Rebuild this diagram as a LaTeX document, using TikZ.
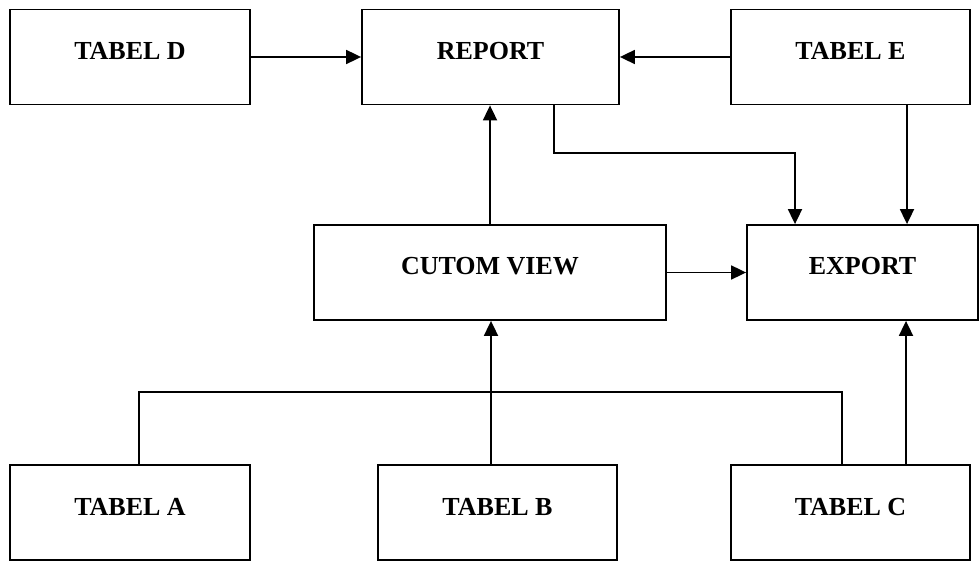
\documentclass[tikz,border=0pt]{standalone}
\usepackage{fontspec}
\setmainfont{Liberation Serif}
\usetikzlibrary{arrows.meta}

\begin{document}
\begin{tikzpicture}[x=1pt,y=-1pt]
    \tikzset{box/.style = {shape=rectangle, draw, line width=1.8pt, minimum height=95pt, inner sep=0pt, font=\fontsize{26}{28}\selectfont\bfseries, text height=10pt, text depth=5pt}}
    \tikzset{edge/.style = {draw, line width=1.8pt, -{Triangle[length=15pt,width=14pt]}}}
    \tikzset{link/.style = {draw, line width=1.8pt, -}}

    \useasboundingbox (0,0) rectangle (980,561);

    % vertices
    \node[box, minimum width=240pt] (d) at (130,57) {TABEL D};
    \node[box, minimum width=257pt] (report) at (490.5,57) {REPORT};
    \node[box, minimum width=239pt] (e) at (850.5,57) {TABEL E};
    \node[box, minimum width=352pt] (custom) at (490,272.5) {CUTOM VIEW};
    \node[box, minimum width=231pt] (export) at (862.5,272.5) {EXPORT};
    \node[box, minimum width=240pt] (a) at (130,512.5) {TABEL A};
    \node[box, minimum width=239pt] (b) at (497.5,512.5) {TABEL B};
    \node[box, minimum width=239pt] (c) at (850.5,512.5) {TABEL C};

    % edges
    \draw [edge] (d) -- (report);
    \draw [edge] (e) -- (report);
    \draw [edge] (custom.north) -- (custom.north |- report.south);
    \draw [edge] ([xshift=63.5pt]report.south) -- ++(0,48) -| ([xshift=-67.5pt]export.north);
    \draw [edge] ([xshift=56.5pt]e.south) -- ([xshift=56.5pt]e.south |- export.north);
    \draw [edge] (custom) -- (export);
    \draw [edge] ([xshift=-6.5pt]b.north) -- ([xshift=-6.5pt]b.north |- custom.south);
    \draw [edge] ([xshift=55.5pt]c.north) -- ([xshift=55.5pt]c.north |- export.south);
    \draw [link] ([xshift=9pt]a.north) -- ++(0,-72) -| ([xshift=-8.5pt]c.north);
\end{tikzpicture}
\end{document}
